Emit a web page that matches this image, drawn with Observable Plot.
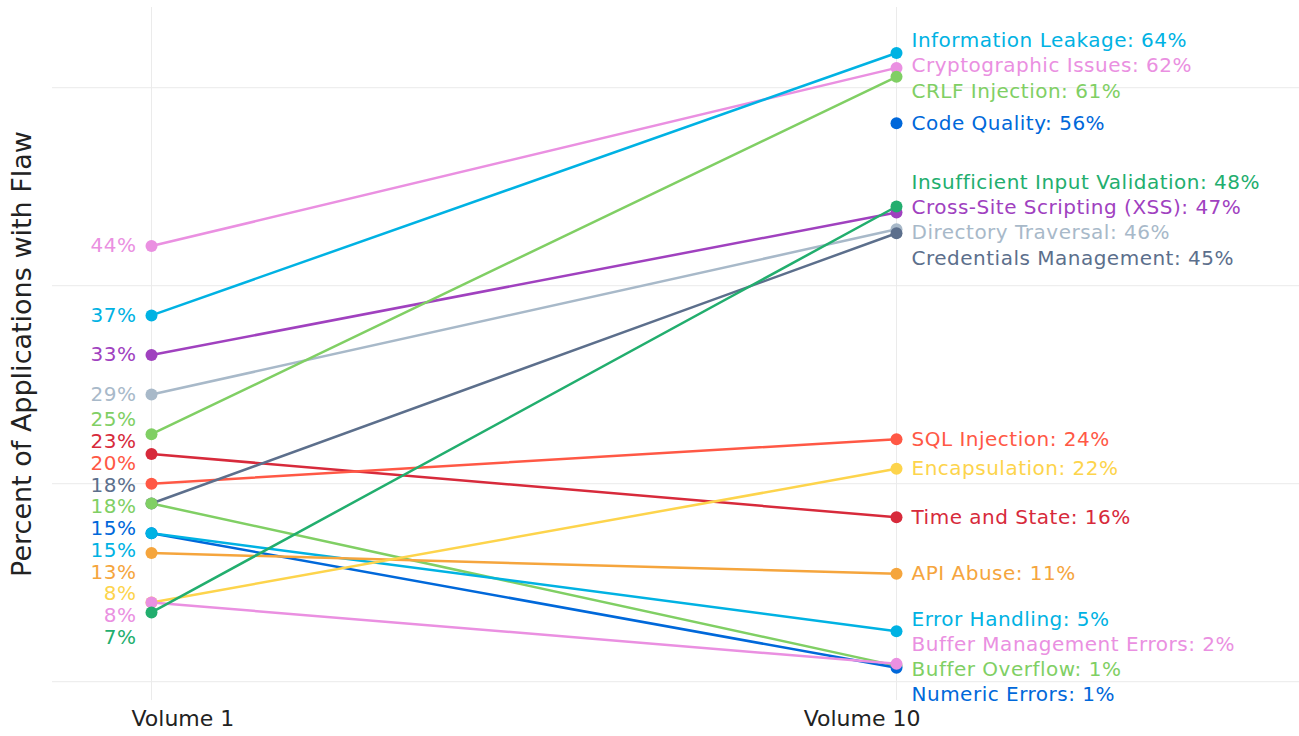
<!DOCTYPE html>
<html><head><meta charset="utf-8">
<script src="https://cdn.jsdelivr.net/npm/d3@7"></script>
<script src="https://cdn.jsdelivr.net/npm/@observablehq/plot@0.6"></script>
<style>body{margin:0;background:#fff;} svg{display:block;} .lbl text{letter-spacing:0.5px;}</style>
</head><body><div id="chart"></div>
<script>
const volumes = ["Volume 1", "Volume 10"];
const categories = [
  "Cryptographic Issues", "Information Leakage", "Cross-Site Scripting (XSS)", "Directory Traversal",
  "CRLF Injection", "Time and State", "SQL Injection", "Credentials Management",
  "Buffer Overflow", "Numeric Errors", "Error Handling", "API Abuse",
  "Encapsulation", "Buffer Management Errors", "Insufficient Input Validation", "Code Quality"
];
const vol1Values  = [44, 37, 33, 29, 25, 23, 20, 18, 18, 15, 15, 13, 8, 8, 7, null];
const vol10Values = [62.0, 63.5, 47.4, 45.7, 61.1, 16.6, 24.5, 45.3, 1.6, 1.4, 5.1, 10.9, 21.5, 1.8, 48.0, 56.4];
const vol1Labels  = [44, 37, 33, 29, 25, 23, 20, 18, 18, 15, 15, 13, 8, 8, 7, null];
const vol10Labels = [62, 64, 47, 46, 61, 16, 24, 45, 1, 1, 5, 11, 22, 2, 48, 56];
const colors = [
  "#ea90e1", "#00b2e3", "#a041bf", "#a8b9c9",
  "#80cf64", "#d72a3b", "#ff5845", "#5c6f8c",
  "#80cf64", "#0068da", "#00b2e3", "#f5a53d",
  "#fdd44c", "#ea90e1", "#22ae6e", "#0068da"
];
const gridValues = [0, 20, 40, 60];

// dodge label positions (data units) so labels do not overlap
function dodge(vals, gap) {
  const idx = vals.map((v, i) => i).filter(i => vals[i] != null);
  idx.sort((a, b) => (vals[b] - vals[a]) || (a - b));
  const pos = vals.slice();
  for (let it = 0; it < 1000; it++) {
    for (let k = 0; k < idx.length - 1; k++) {
      const a = idx[k], b = idx[k + 1];
      const d = pos[a] - pos[b];
      if (d < gap) { const s = (gap - d) / 2; pos[a] += s; pos[b] -= s; }
    }
  }
  return pos;
}
const lab1Y = dodge(vol1Values, 2.2);
const lab10Y = dodge(vol10Values, 2.55);

const rows = [];
categories.forEach((name, i) => {
  if (vol1Values[i] != null) rows.push({name, vol: volumes[0], value: vol1Values[i], labelY: lab1Y[i], text: vol1Labels[i] + "%", color: colors[i]});
  rows.push({name, vol: volumes[1], value: vol10Values[i], labelY: lab10Y[i], text: name + ": " + vol10Labels[i] + "%", color: colors[i]});
});
const leftRows = rows.filter(d => d.vol === volumes[0]);
const rightRows = rows.filter(d => d.vol === volumes[1]);

const font = "'DejaVu Sans', sans-serif";
const chart = Plot.plot({
  width: 1299, height: 736,
  marginLeft: 52, marginRight: 0, marginTop: 7, marginBottom: 36,
  style: {fontFamily: font, background: "#fff", overflow: "visible"},
  x: {type: "point", domain: volumes, range: [151, 896], padding: 0},
  y: {domain: [-1.9, 68.1], axis: null},
  marks: [
    Plot.ruleY(gridValues, {stroke: "#ebebeb", strokeWidth: 1}),
    Plot.ruleX(volumes, {stroke: "#ebebeb", strokeWidth: 1}),
    Plot.line(rows, {x: "vol", y: "value", z: "name", stroke: "color", strokeWidth: 2.5}),
    Plot.dot(rows, {x: "vol", y: "value", fill: "color", r: 6}),
    Plot.text(leftRows, {x: "vol", y: "labelY", text: "text", fill: "color", textAnchor: "end", dx: -15, fontSize: 20, className: "lbl"}),
    Plot.text(rightRows, {x: "vol", y: "labelY", text: "text", fill: "color", textAnchor: "start", dx: 15, fontSize: 20, className: "lbl"}),
    Plot.axisX([volumes[0]], {tickSize: 0, tickPadding: 10, textAnchor: "start", dx: -20, fontSize: 22, fill: "#222", label: null}),
    Plot.axisX([volumes[1]], {tickSize: 0, tickPadding: 10, textAnchor: "end", dx: 24, fontSize: 22, fill: "#222", label: null}),
    Plot.text(["Percent of Applications with Flaw"], {frameAnchor: "left", textAnchor: "middle", rotate: -90, dx: -30, fontSize: 27, fill: "#222"})
  ]
});
document.getElementById("chart").appendChild(chart);
</script>
</body></html>
